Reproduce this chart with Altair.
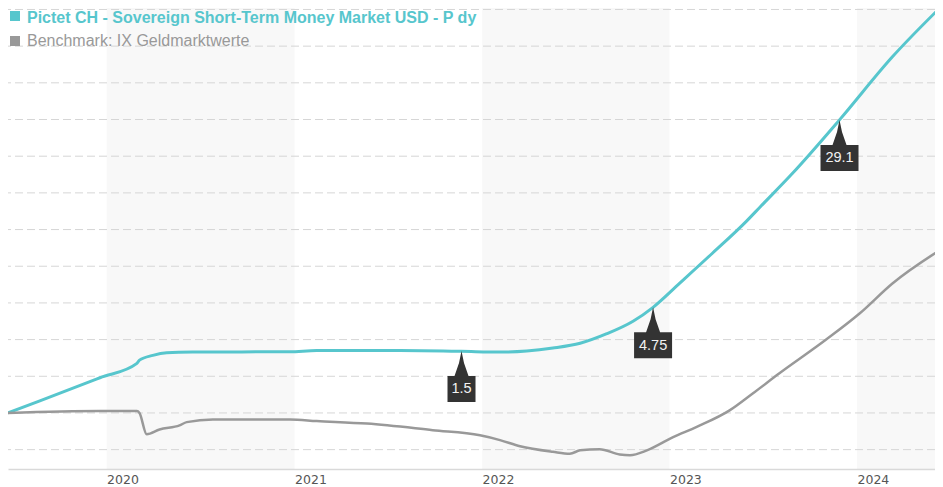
import altair as alt
import pandas as pd

# ---- data ----
fund_dates = ["2019-06-23", "2019-08-24", "2019-12-19", "2020-02-29", "2020-03-05",
              "2020-03-31", "2020-04-27", "2020-06-17", "2020-12-23", "2021-02-13",
              "2021-07-25", "2021-11-21", "2022-02-05", "2022-03-29", "2022-05-19",
              "2022-07-11", "2022-09-01", "2022-10-22", "2022-11-30", "2023-01-21",
              "2023-03-26", "2023-05-31", "2023-06-26", "2023-08-29", "2023-11-28",
              "2024-03-10", "2024-06-16"]
fund_values = [0.0, 0.33, 0.96, 1.35, 1.44, 1.57, 1.64, 1.66, 1.67, 1.70,
               1.70, 1.68, 1.66, 1.69, 1.77, 1.90, 2.16, 2.50, 2.88, 3.54,
               4.36, 5.23, 5.61, 6.54, 7.99, 9.71, 11.12]

bench_dates = ["2019-06-23", "2019-12-19", "2020-02-29", "2020-03-05", "2020-03-19",
               "2020-04-13", "2020-05-22", "2020-06-05", "2020-07-26", "2020-12-23",
               "2021-02-13", "2021-05-22", "2021-09-27", "2021-12-28", "2022-02-05",
               "2022-03-16", "2022-05-19", "2022-06-21", "2022-07-11", "2022-08-18",
               "2022-09-26", "2022-10-16", "2022-11-18", "2023-01-08", "2023-02-23",
               "2023-04-28", "2023-06-12", "2023-08-03", "2023-11-02", "2024-01-06",
               "2024-03-10", "2024-06-16"]
bench_values = [0.0, 0.05, 0.05, 0.0, -0.58, -0.45, -0.34, -0.25, -0.18, -0.18,
                -0.22, -0.29, -0.47, -0.61, -0.74, -0.91, -1.06, -1.11, -1.02, -0.99,
                -1.13, -1.15, -1.02, -0.66, -0.38, 0.07, 0.53, 1.08, 2.00, 2.71,
                3.53, 4.49]

marker_dates = ["2021-11-22", "2022-11-30", "2023-11-28"]
marker_values = [1.69, 2.88, 7.99]
marker_labels = ["1.5", "4.75", "29.1"]

band_starts = ["2020-01-01", "2022-01-01", "2024-01-01"]
band_ends = ["2021-01-01", "2023-01-01", "2025-01-01"]

series_names = ["Pictet CH - Sovereign Short-Term Money Market USD - P dy",
                "Benchmark: IX Geldmarktwerte"]
series_colors = ["#57c6cd", "#999999"]
year_ticks = [2020, 2021, 2022, 2023, 2024]
grid_values = list(range(-1, 12))

# ---- tables ----
lines_df = pd.concat([
    pd.DataFrame({"date": fund_dates, "value": fund_values, "series": series_names[0]}),
    pd.DataFrame({"date": bench_dates, "value": bench_values, "series": series_names[1]}),
])
markers_df = pd.DataFrame({"date": marker_dates, "value": marker_values, "label": marker_labels})
markers_df["kind"] = ["s" if len(l) <= 3 else "l" for l in marker_labels]
bands_df = pd.DataFrame({"start": band_starts, "end": band_ends})
grid_df = pd.DataFrame({"value": grid_values})
legend_df = pd.DataFrame({"name": series_names, "color": series_colors,
                          "ty": [14.7, 38.0], "sy": [8.0, 33.0]})

x_scale = alt.Scale(type="utc", domain=[alt.DateTime(year=2019, month=6, date=23, utc=True),
                                        alt.DateTime(year=2024, month=5, date=31, hours=22, utc=True)])
y_scale = alt.Scale(domain=[-1.528, 11.04], nice=False, zero=False)

x_axis = alt.Axis(values=[alt.DateTime(year=y, month=1, date=1, utc=True) for y in year_ticks],
                  labelExpr="utcFormat(datum.value, '%Y')", title=None, grid=False, ticks=False,
                  domainColor="#d9d9d9", domainWidth=1.5, labelAlign="left", labelBaseline="top",
                  labelPadding=4, labelFontSize=12.5, labelFont="DejaVu Sans", labelColor="#555555",
                  labelFlush=False, labelOverlap=False)

bands = alt.Chart(bands_df).mark_rect(color="#000000", opacity=0.027, clip=True).encode(
    x=alt.X("start:T", scale=x_scale, axis=x_axis),
    x2="end:T",
    y=alt.value(0), y2=alt.value(461),
)

grid = alt.Chart(grid_df).mark_rule(strokeDash=[8, 4], color="#d6d6d6", strokeWidth=1).encode(
    y=alt.Y("value:Q", scale=y_scale, axis=None),
)

lines = alt.Chart(lines_df).mark_line(clip=True, strokeJoin="round", interpolate="monotone").encode(
    x=alt.X("date:T", scale=x_scale, axis=x_axis),
    y=alt.Y("value:Q", scale=y_scale, axis=None),
    color=alt.Color("series:N", scale=alt.Scale(domain=series_names, range=series_colors), legend=None),
    strokeWidth=alt.StrokeWidth("series:N", scale=alt.Scale(domain=series_names, range=[3, 2.5]), legend=None),
)

path_short = "M0,0L0.25,1.2L0.7,2.5L1.4,2.5L1.4,5.1L-1.4,5.1L-1.4,2.5L-0.7,2.5L-0.25,1.2Z"
path_long = "M0,0L0.25,1.2L0.7,2.5L1.9,2.5L1.9,5.1L-1.9,5.1L-1.9,2.5L-0.7,2.5L-0.25,1.2Z"

markers = alt.Chart(markers_df).mark_point(filled=True, size=400, opacity=1, color="#333333",
                                           strokeWidth=0).encode(
    x=alt.X("date:T", scale=x_scale),
    y=alt.Y("value:Q", scale=y_scale),
    shape=alt.Shape("kind:N", scale=alt.Scale(domain=["s", "l"], range=[path_short, path_long]),
                    legend=None),
)

marker_text = alt.Chart(markers_df).mark_text(dy=38.5, color="#f2f2f2", fontSize=14.5,
                                              font="Liberation Sans", baseline="middle",
                                              align="center").encode(
    x=alt.X("date:T", scale=x_scale),
    y=alt.Y("value:Q", scale=y_scale),
    text="label:N",
)

legend_sq = alt.Chart(legend_df).mark_square(size=100, opacity=1, filled=True).encode(
    x=alt.value(7),
    y=alt.Y("sy:Q", scale=None),
    color=alt.Color("color:N", scale=None),
)
legend_txt1 = alt.Chart(legend_df.iloc[[0]]).mark_text(
    align="left", baseline="alphabetic", fontSize=16, font="Liberation Sans", fontWeight="bold"
).encode(
    x=alt.value(19),
    y=alt.Y("ty:Q", scale=None),
    text="name:N",
    color=alt.Color("color:N", scale=None),
)
legend_txt2 = alt.Chart(legend_df.iloc[[1]]).mark_text(
    align="left", baseline="alphabetic", fontSize=16, font="Liberation Sans", fontWeight="normal"
).encode(
    x=alt.value(19),
    y=alt.Y("ty:Q", scale=None),
    text="name:N",
    color=alt.Color("color:N", scale=None),
)

chart = alt.layer(bands, grid, lines, markers, marker_text, legend_sq, legend_txt1, legend_txt2).properties(
    width=927, height=461,
    padding={"left": 0, "top": 0, "right": 0, "bottom": 18},
    autosize=alt.AutoSizeParams(type="none"),
).configure_view(stroke=None).resolve_scale(color="independent")

chart.save("out.html", embed_options={"renderer": "svg", "actions": False})
